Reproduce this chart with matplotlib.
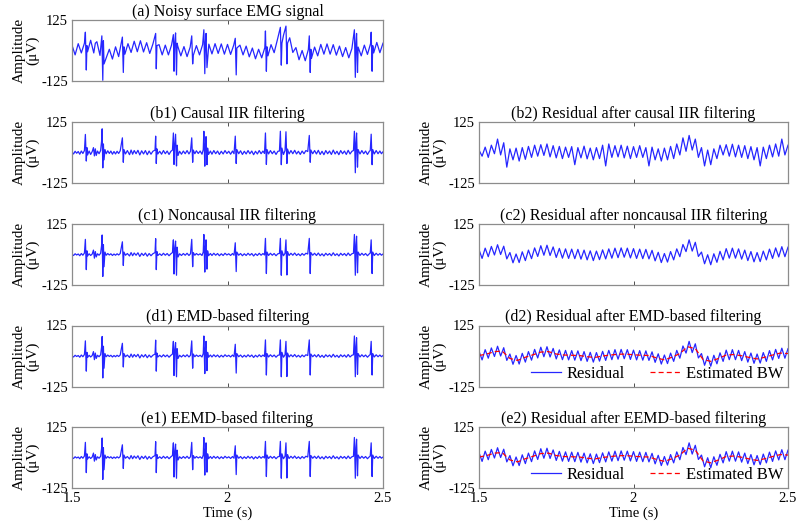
import numpy as np
import matplotlib
matplotlib.use("Agg")
import matplotlib.pyplot as plt

plt.rcParams['font.family'] = ['Liberation Serif', 'DejaVu Serif']
plt.rcParams['mathtext.fontset'] = 'stix'

# ---------------- data (µV) ----------------
# residual extremes sampled every 10 ms from 1.5 s to 2.5 s (101 values)
t_res = np.linspace(1.5, 2.5, 101)
res_c = [20, -16, 26, -9, 33, -2, 40, 0, 34, -18,
         8, -34, 2, -33, 11, -25, 18, -17, 27, -8,
         36, -3, 38, -4, 31, -12, 25, -15, 23, -16,
         22, -17, 21, -19, 18, -22, 15, -25, 14, -21,
         19, -18, 23, -15, 26, -13, 27, -11, 26, -14,
         24, -16, 22, -17, 21, -18, 17, -26, 9, -33,
         4, -31, 12, -22, 23, -9, 41, 12, 60, 14,
         50, -8, 10, -38, -1, -42, 3, -32, 13, -22,
         24, -15, 26, -15, 23, -19, 18, -25, 12, -30,
         8, -29, 14, -22, 22, -16, 27, -10, 32, -9, 30]
res_b = [10, -15, 22, -20, 30, -5, 55, -10, 40, -60,
         15, -30, 18, -35, 20, -28, 25, -20, 30, -15,
         32, -12, 35, -18, 28, -22, 25, -25, 22, -20,
         24, -50, 20, -22, 26, -26, 18, -30, 20, -25,
         30, -55, 35, -20, 28, -18, 30, -22, 26, -25,
         24, -20, 28, -20, 20, -55, 22, -30, 15, -35,
         18, -30, 25, -25, 35, -10, 60, 5, 70, 10,
         55, -20, 20, -55, 10, -50, 15, -25, 30, -10,
         32, -15, 34, -18, 30, -20, 28, -25, 24, -30,
         20, -55, 22, -25, 30, -18, 35, -15, 55, -10, 30]

# estimated baseline wander, every 25 ms
t_bw = np.linspace(1.5, 2.5, 41)
bw = [2, 8, 18, 20, -10, -18, -5, 5, 16, 18,
      8, 4, 3, 2, -3, -6, 0, 4, 7, 8,
      5, 3, 2, -8, -16, -5, 10, 38, 30, -14,
      -22, -10, 4, 6, 1, -6, -12, -5, 4, 12, 10]

# filtered EMG (spike trains)
t_filt = [1.500, 1.505, 1.510, 1.515, 1.520, 1.525, 1.530, 1.535, 1.540,
          1.543, 1.546, 1.548, 1.550, 1.555, 1.560, 1.565,
          1.569, 1.572, 1.575, 1.578, 1.582, 1.587, 1.592,
          1.595, 1.597, 1.599, 1.601, 1.603, 1.606,
          1.610, 1.615, 1.620, 1.625, 1.630, 1.635, 1.640, 1.645, 1.650, 1.655,
          1.662, 1.665, 1.667,
          1.672, 1.678, 1.685, 1.690, 1.695, 1.700, 1.706, 1.712, 1.718, 1.724, 1.730, 1.736, 1.742, 1.748, 1.754, 1.760,
          1.767, 1.769, 1.771, 1.773, 1.776,
          1.782, 1.788, 1.794, 1.800, 1.806, 1.812, 1.818, 1.823,
          1.826, 1.828, 1.830, 1.833, 1.836, 1.838, 1.841,
          1.846, 1.852, 1.858, 1.864, 1.870, 1.876, 1.881,
          1.885, 1.888, 1.890,
          1.895, 1.900, 1.906, 1.912, 1.918, 1.922,
          1.924, 1.927, 1.929, 1.931, 1.934, 1.936, 1.939,
          1.945, 1.950, 1.956, 1.962, 1.968, 1.974, 1.980, 1.986, 1.992, 1.998, 2.004, 2.010, 2.016, 2.021,
          2.025, 2.028, 2.030,
          2.036, 2.042, 2.048, 2.054, 2.060, 2.066, 2.072, 2.078, 2.084, 2.090, 2.096, 2.102, 2.108, 2.114, 2.119,
          2.122, 2.125, 2.127,
          2.132, 2.138, 2.144, 2.150, 2.156, 2.162, 2.167,
          2.170, 2.173, 2.175, 2.180, 2.185,
          2.188, 2.191, 2.193,
          2.198, 2.204, 2.210, 2.216, 2.222, 2.228, 2.234, 2.240, 2.246, 2.252, 2.258,
          2.263, 2.266, 2.268,
          2.274, 2.280, 2.286, 2.292, 2.298, 2.304, 2.310, 2.316, 2.322, 2.328, 2.334, 2.340,
          2.346, 2.352, 2.358, 2.364, 2.370, 2.376, 2.382, 2.388, 2.394, 2.400, 2.405,
          2.408, 2.411, 2.413, 2.415, 2.418, 2.420,
          2.426, 2.432, 2.438, 2.444, 2.450, 2.456, 2.459,
          2.462, 2.465, 2.467,
          2.472, 2.478, 2.484, 2.490, 2.495, 2.500]
v_c1 = [0, -4, 3, -2, 2, -5, 4, -3, 6,
        62, -62, 15, -6, 3, -4, 2,
        18, -15, 12, -10, 3, -3, 5,
        35, 80, -90, 40, -50, 10,
        -3, 4, -2, 3, -4, 2, -3, 3, -2, 4,
        52, -45, 10,
        -3, 4, -6, 8, -5, 6, -3, 7, -8, 5, -4, 6, -7, 4, -5, 3,
        8, 65, -62, 12, -4,
        3, -4, 5, -3, 4, -5, 3, 8,
        60, -80, 20, 55, -85, 30, -10,
        3, -4, 4, -3, 5, -4, 3,
        62, -50, 8,
        -3, 4, -2, 3, -4, 10,
        82, -72, 30, 60, -60, 15, -5,
        4, -4, 5, -3, 4, -5, 3, -4, 5, -2, 3, -4, 4, -3,
        48, -70, 10,
        -3, 4, -5, 3, -4, 5, -3, 4, -6, 3, -4, 5, -3, 4, -2,
        66, -78, 10,
        -4, 5, -3, 4, -5, 3, 4,
        66, -85, 15, -5, 5,
        60, -84, 12,
        -4, 5, -3, 6, -4, 3, -5, 4, -3, 5, 2,
        66, -78, 8,
        -3, 5, -4, 6, -5, 3, -6, 5, -3, 4, -5, 7,
        -4, 3, -6, 5, -3, 4, -5, 6, -4, 3, 5,
        82, -85, 40, 75, -75, 10,
        -4, 5, -3, 4, -5, 3, 6,
        60, -78, 10,
        -4, 5, -3, 4, -3, 2]
v_b1 = [2, -6, 5, -3, 4, -7, 6, -4, 8,
        74, -35, 20, -10, 6, -8, 4,
        20, -14, 15, -12, 6, -5, 8,
        45, 97, -63, 35, -30, 12,
        -5, 7, -4, 6, -7, 4, -6, 5, -4, 7,
        60, -40, 12,
        -6, 8, -9, 10, -7, 8, -5, 9, -10, 7, -6, 8, -9, 6, -7, 5,
        10, 67, -45, 15, -6,
        5, -7, 8, -5, 6, -8, 5, 10,
        80, -49, 25, 75, -55, 30, -12,
        5, -7, 6, -5, 8, -6, 5,
        60, -40, 10,
        -5, 7, -4, 6, -7, 12,
        87, -56, 30, 65, -50, 18, -8,
        6, -7, 8, -5, 6, -8, 5, -6, 8, -4, 5, -7, 6, -5,
        67, -45, 12,
        -5, 7, -8, 5, -6, 8, -5, 6, -9, 5, -6, 8, -5, 6, -4,
        80, -49, 12,
        -6, 8, -5, 6, -8, 5, 6,
        87, -50, 18, -8, 8,
        85, -45, 14,
        -6, 8, -5, 9, -6, 5, -8, 6, -5, 8, 4,
        70, -40, 10,
        -5, 8, -6, 9, -8, 5, -9, 8, -5, 6, -8, 10,
        -6, 5, -9, 8, -5, 6, -8, 9, -6, 5, 8,
        87, -83, 40, 80, -60, 12,
        -6, 8, -5, 6, -8, 5, 8,
        75, -50, 12,
        -6, 8, -5, 6, -5, 3]

# noisy surface EMG
t_a = [1.50, 1.51, 1.52, 1.53, 1.54, 1.543, 1.546, 1.548,
       1.55, 1.56, 1.57, 1.575, 1.58, 1.59, 1.596, 1.599, 1.601, 1.603,
       1.61, 1.62, 1.63, 1.64, 1.65, 1.662, 1.665, 1.667,
       1.67, 1.68, 1.69, 1.70, 1.71, 1.72, 1.73, 1.74, 1.75, 1.76, 1.769, 1.771, 1.773,
       1.78, 1.79, 1.80, 1.81, 1.82, 1.826, 1.828, 1.830, 1.833, 1.836, 1.838,
       1.84, 1.85, 1.86, 1.87, 1.88, 1.885, 1.888,
       1.89, 1.90, 1.91, 1.92, 1.924, 1.927, 1.929, 1.931, 1.934,
       1.94, 1.95, 1.96, 1.97, 1.98, 1.99, 2.00, 2.01, 2.02, 2.025, 2.028, 2.030,
       2.04, 2.05, 2.06, 2.07, 2.08, 2.09, 2.10, 2.11, 2.12, 2.122, 2.125, 2.127,
       2.13, 2.14, 2.15, 2.16, 2.170, 2.173, 2.175, 2.18, 2.188, 2.191, 2.193,
       2.20, 2.21, 2.22, 2.23, 2.24, 2.25, 2.26, 2.263, 2.266, 2.268,
       2.27, 2.28, 2.29, 2.30, 2.31, 2.32, 2.33, 2.34, 2.35, 2.36, 2.37, 2.38, 2.39, 2.40,
       2.408, 2.411, 2.413, 2.415, 2.418,
       2.42, 2.43, 2.44, 2.45, 2.46, 2.462, 2.465, 2.467,
       2.47, 2.48, 2.49, 2.50]
v_a = [22, -18, 28, -10, 30, 75, -80, 20,
       -5, 42, -10, 30, 36, -20, 60, -122, 40, -55,
       -30, 5, -35, 15, -25, 55, -90, 15,
       -15, 28, -8, 38, -5, 40, -6, 32, -12, 26, 70, -75, 20,
       24, -18, 22, -18, 22, 65, -85, 25, 72, -100, 30,
       18, -22, 16, -25, 14, 60, -55,
       -20, 20, -18, 24, 85, -95, 35, 70, -70,
       26, -14, 28, -12, 27, -15, 25, -16, 22, 50, -100, 10,
       22, -18, 18, -26, 10, -34, 5, -30, 12, 80, -85, 15,
       -22, 24, -9, 42, 95, -60, 30, 62, 100, -55, 30,
       52, -8, 12, -38, 0, -42, 4, 60, -90, 5,
       -32, 14, -22, 25, -15, 27, -15, 24, -19, 18, -25, 12, -30, 8,
       85, -110, 30, 70, -90,
       14, -22, 22, -16, 28, 75, -85, 20,
       -10, 33, -9, 30]

# ---------------- layout ----------------
W, H = 800, 530
fig = plt.figure(figsize=(8, 5.3), dpi=100)
left_x, left_w = 72 / W, 311 / W
right_x, right_w = 479 / W, 309 / W
row_tops = [20, 122, 224, 325.5, 427]
ax_h = 61

blue = (0.15, 0.15, 1.0)
FS_TICK = 10.5
FS_TITLE = 11.5
FS_YLAB = 11
FS_LEG = 12
frame_col = '#8c8c8c'


def make_ax(x0, w, top, title, bottom_row=False):
    ax = fig.add_axes([x0, 1 - (top + ax_h) / H, w, ax_h / H])
    ax.set_xlim(1.5, 2.5)
    ax.set_ylim(-125, 125)
    ax.set_yticks([-125, 125])
    ax.set_yticklabels(['-125', '125'], fontsize=FS_TICK)
    ax.set_xticks([1.5, 2, 2.5])
    ax.tick_params(direction='in', length=3, width=0.6, top=True, right=False,
                   pad=3, colors='#333333', labelcolor='black')
    if bottom_row:
        ax.set_xticklabels(['1.5', '2', '2.5'], fontsize=FS_TICK)
        ax.set_xlabel('Time (s)', fontsize=FS_TICK, labelpad=1)
    else:
        ax.set_xticklabels([])
    for s in ax.spines.values():
        s.set_color(frame_col)
        s.set_linewidth(0.9)
    ax.set_title(title, fontsize=FS_TITLE, pad=3)
    ax.set_ylabel('Amplitude\n(μV)', fontsize=FS_YLAB, labelpad=1, linespacing=1.0)
    return ax


# left column
ax = make_ax(left_x, left_w, row_tops[0], '(a) Noisy surface EMG signal')
ax.plot(t_a, v_a, color=blue, lw=0.9)

ax = make_ax(left_x, left_w, row_tops[1], '(b1) Causal IIR filtering')
ax.plot(t_filt, v_b1, color=blue, lw=0.9)

ax = make_ax(left_x, left_w, row_tops[2], '(c1) Noncausal IIR filtering')
ax.plot(t_filt, v_c1, color=blue, lw=0.9)

ax = make_ax(left_x, left_w, row_tops[3], '(d1) EMD-based filtering')
ax.plot(t_filt, v_c1, color=blue, lw=0.9)

ax = make_ax(left_x, left_w, row_tops[4], '(e1) EEMD-based filtering', bottom_row=True)
ax.plot(t_filt, v_c1, color=blue, lw=0.9)

# right column
ax = make_ax(right_x, right_w, row_tops[1], '(b2) Residual after causal IIR filtering')
ax.plot(t_res, res_b, color=blue, lw=0.9)

ax = make_ax(right_x, right_w, row_tops[2], '(c2) Residual after noncausal IIR filtering')
ax.plot(t_res, res_c, color=blue, lw=0.9)

for r, ttl, last in [(3, '(d2) Residual after EMD-based filtering', False),
                     (4, '(e2) Residual after EEMD-based filtering', True)]:
    ax = make_ax(right_x, right_w, row_tops[r], ttl, bottom_row=last)
    ax.plot(t_res, res_c, color=blue, lw=0.9, label='Residual')
    ax.plot(t_bw, bw, color='red', lw=0.9, ls=(0, (4, 2.5)), label='Estimated BW')
    ax.legend(loc='lower right', ncol=2, frameon=False, fontsize=FS_LEG,
              borderaxespad=0.2, borderpad=0.1, handlelength=1.8,
              columnspacing=1.5, handletextpad=0.35)

fig.savefig('out.png', dpi=100)
